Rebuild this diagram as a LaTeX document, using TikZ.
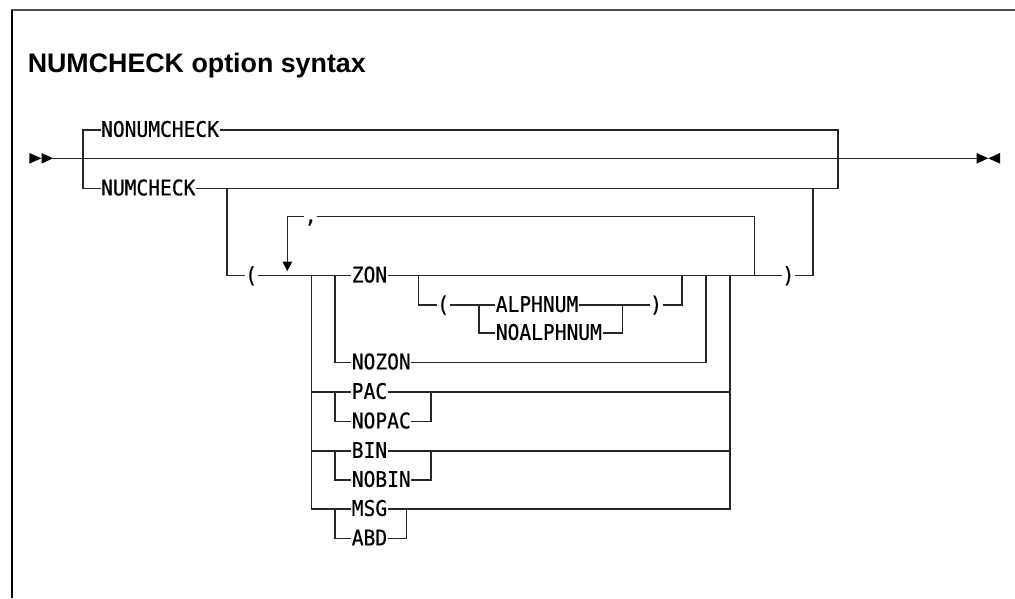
\documentclass[tikz,border=0pt]{standalone}
\usepackage{fontspec}
\newfontfamily\kwfont{DejaVu Sans Mono}[FakeStretch=0.911,FakeBold=0.6]
\newfontfamily\titlefont{Liberation Sans}
\begin{document}
\begin{tikzpicture}[x=1pt,y=-1pt,
  kw/.style={font=\kwfont\fontsize{21.5}{24}\selectfont, inner xsep=0.4pt, inner ysep=0pt,
             text height=13.7pt, text depth=0pt, anchor=west},
  ln/.style={line width=1.2pt, draw=black!85},
  tip/.style={fill=black}]
\useasboundingbox (0,0) rectangle (1015,598);
% frame
\draw[line width=2pt, draw=black!70] (11,9.5) -- (1015,9.5);
\draw[line width=2pt, draw=black] (12,9.5) -- (12,598);
% title
\node[anchor=base west, inner sep=0, font=\titlefont\bfseries\fontsize{26.8}{30}\selectfont] (title) at (27.6,72.7) {NUMCHECK option syntax};

% coordinates of junctions
\coordinate (s) at (53,158.3);
\coordinate (e) at (976.7,158.3);
\coordinate (j1) at (83,158.3);
\coordinate (j2) at (838,158.3);
\coordinate (k1) at (227,188.5);
\coordinate (k2) at (813,188.5);
\coordinate (r1) at (287.3,216.3);
\coordinate (r2) at (754.3,216.3);
\coordinate (r2b) at (754.3,275.6);
\coordinate (b1) at (311.7,275.6);
\coordinate (b2) at (335,275.6);
\coordinate (o1) at (418.3,275.6);
\coordinate (o2) at (479,305);
\coordinate (o3) at (622.7,305);
\coordinate (o4) at (682,275.6);
\coordinate (zj) at (706,275.6);
\coordinate (rj) at (730,275.6);
\coordinate (c1) at (431,0);
\coordinate (c2) at (406.7,0);

% keyword nodes
\node[kw] (nonum) at (100.5,130) {NONUMCHECK};
\node[kw] (num) at (100.5,188.5) {NUMCHECK};
\node[kw] (lp1) at (244.6,275.6) {(};
\node[kw, anchor=base west] (comma) at (304.2,222.5) {,};
\node[kw] (zon) at (351.2,275.6) {ZON};
\node[kw] (lp2) at (436.6,305) {(};
\node[kw] (alph) at (495.2,305) {ALPHNUM};
\node[kw] (noalph) at (495.2,333) {NOALPHNUM};
\node[kw] (rp2) at (649.6,305) {)};
\node[kw] (nozon) at (351.2,362.5) {NOZON};
\node[kw] (pac) at (351.2,392) {PAC};
\node[kw] (nopac) at (351.2,421.5) {NOPAC};
\node[kw] (bin) at (351.2,451) {BIN};
\node[kw] (nobin) at (351.2,480) {NOBIN};
\node[kw] (msg) at (351.2,509) {MSG};
\node[kw] (abd) at (351.2,538.5) {ABD};
\node[kw] (rp1) at (781.9,275.6) {)};

% start and end marks
\fill[tip] (29.3,153) -- (41.5,158.3) -- (29.3,163.6) -- cycle;
\fill[tip] (41.5,153) -- (s) -- (41.5,163.6) -- cycle;
\fill[tip] (e) ++(0,-5.3) -- ++(11.6,5.3) -- ++(-11.6,5.3) -- cycle;
\fill[tip] (1000,153) -- (988.3,158.3) -- (1000,163.6) -- cycle;

% main line
\draw[ln] (s) -- (e);
\draw[ln] (nonum.west) -- (nonum.west -| j1) -- (num.west -| j1) -- (num.west);
\draw[ln] (nonum.east) -- (nonum.east -| j2) -- (num.east -| j2) -- (num.east);

% parenthesised group
\draw[ln] (k1) |- (lp1.west);
\draw[ln] (lp1.east) -- (zon.west);
\draw[ln] (zon.east) -- (rp1.west);
\draw[ln] (rp1.east) -| (k2);

% repeat arrow
\draw[ln] (r2b) -- (r2) -- (comma.east |- r2);
\draw[ln] (comma.west |- r1) -- (r1) -- ++(0,45.5);
\fill[tip] (r1) ++(-4.8,45.4) -- ++(9.6,0) -- ++(-4.8,9.4) -- cycle;

% left stems
\draw[ln] (b1) |- (msg.west);
\draw[ln] (pac.west -| b1) -- (pac.west);
\draw[ln] (bin.west -| b1) -- (bin.west);
\draw[ln] (b2) |- (nozon.west);

% ZON optional part
\draw[ln] (o1) |- (lp2.west);
\draw[ln] (lp2.east) -- (alph.west);
\draw[ln] (o2) |- (noalph.west);
\draw[ln] (noalph.east) -| (o3);
\draw[ln] (alph.east) -- (rp2.west);
\draw[ln] (rp2.east) -| (o4);
\draw[ln] (nozon.east) -| (zj);

% PAC / NOPAC
\draw[ln] (pac.west -| b2) |- (nopac.west);
\draw[ln] (nopac.east) -| (pac.east -| c1);
\draw[ln] (pac.east) -- (pac.east -| rj);
% BIN / NOBIN
\draw[ln] (bin.west -| b2) |- (nobin.west);
\draw[ln] (nobin.east) -| (bin.east -| c1);
\draw[ln] (bin.east) -- (bin.east -| rj);
% MSG / ABD
\draw[ln] (msg.west -| b2) |- (abd.west);
\draw[ln] (abd.east) -| (msg.east -| c2);
\draw[ln] (msg.east) -| (rj);
\end{tikzpicture}
\end{document}
